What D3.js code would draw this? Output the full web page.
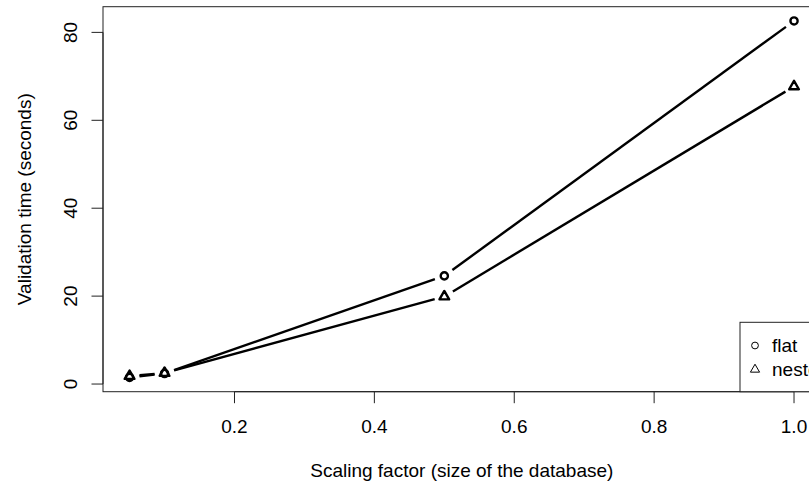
<!DOCTYPE html>
<html>
<head>
<meta charset="utf-8">
<script src="https://cdn.jsdelivr.net/npm/d3@7"></script>
<style>
  html, body { margin: 0; padding: 0; background: #fff; }
  svg { display: block; }
  text { font-family: "Liberation Sans", Arial, Helvetica, sans-serif; fill: #000; }
</style>
</head>
<body>
<svg id="chart" width="809" height="484"></svg>
<script>
// Scaling factors of the database and validation times (seconds)
const scaleFactors = [0.05, 0.1, 0.5, 1.0];
const flatTimes = [1.5, 2.4, 24.6, 82.6];
const nestedTimes = [1.8, 2.5, 19.9, 67.7];
const xTicks = [0.2, 0.4, 0.6, 0.8, 1.0];
const yTicks = [0, 20, 40, 60, 80];
const seriesNames = ["flat", "nested"];

const plot = { left: 103, top: 6.7, right: 820.6, bottom: 391.7 };
const fontSize = 19;

const svg = d3.select("#chart");

// R-style 4% axis expansion
function expand(lo, hi) {
  const d = (hi - lo) * 0.04;
  return [lo - d, hi + d];
}
const allY = flatTimes.concat(nestedTimes);
const x = d3.scaleLinear()
  .domain(expand(d3.min(scaleFactors), d3.max(scaleFactors)))
  .range([plot.left, plot.right]);
const y = d3.scaleLinear()
  .domain(expand(d3.min(allY), d3.max(allY)))
  .range([plot.bottom, plot.top]);

const tickLen = 11.5;
const axisColor = "#222";

// Plot box
svg.append("rect")
  .attr("x", plot.left).attr("y", plot.top)
  .attr("width", plot.right - plot.left).attr("height", plot.bottom - plot.top)
  .attr("fill", "none").attr("stroke", axisColor).attr("stroke-width", 1);

// X axis
const xAxis = svg.append("g").attr("class", "x-axis");
xAxis.append("line")
  .attr("x1", x(xTicks[0])).attr("x2", x(xTicks[xTicks.length - 1]))
  .attr("y1", plot.bottom).attr("y2", plot.bottom)
  .attr("stroke", axisColor);
xAxis.selectAll("line.tick").data(xTicks).enter().append("line")
  .attr("class", "tick")
  .attr("x1", d => x(d)).attr("x2", d => x(d))
  .attr("y1", plot.bottom).attr("y2", plot.bottom + tickLen)
  .attr("stroke", axisColor);
xAxis.selectAll("text").data(xTicks).enter().append("text")
  .attr("x", d => x(d)).attr("y", 433.3)
  .attr("text-anchor", "middle")
  .attr("font-size", fontSize)
  .text(d => d3.format(".1f")(d));

// Y axis
const yAxis = svg.append("g").attr("class", "y-axis");
yAxis.append("line")
  .attr("x1", plot.left).attr("x2", plot.left)
  .attr("y1", y(yTicks[0])).attr("y2", y(yTicks[yTicks.length - 1]))
  .attr("stroke", axisColor);
yAxis.selectAll("line.tick").data(yTicks).enter().append("line")
  .attr("class", "tick")
  .attr("x1", plot.left - tickLen).attr("x2", plot.left)
  .attr("y1", d => y(d)).attr("y2", d => y(d))
  .attr("stroke", axisColor);
yAxis.selectAll("text").data(yTicks).enter().append("text")
  .attr("transform", d => `translate(76.5,${y(d)}) rotate(-90)`)
  .attr("text-anchor", "middle")
  .attr("font-size", fontSize)
  .text(d => d);

// Axis titles
svg.append("text")
  .attr("x", (plot.left + plot.right) / 2).attr("y", 477)
  .attr("text-anchor", "middle")
  .attr("font-size", fontSize)
  .text("Scaling factor (size of the database)");
svg.append("text")
  .attr("transform", `translate(31,${(plot.top + plot.bottom) / 2}) rotate(-90)`)
  .attr("text-anchor", "middle")
  .attr("font-size", fontSize)
  .text("Validation time (seconds)");

// Point symbols: open circle and open triangle (centroid at the point)
const symR = 3.6;
function circlePath(cx, cy, r) {
  const p = d3.path();
  p.moveTo(cx + r, cy);
  p.arc(cx, cy, r, 0, 2 * Math.PI);
  return p.toString();
}
function trianglePath(cx, cy, r) {
  const t0 = Math.sqrt(4 * Math.PI / (3 * Math.sqrt(3)));
  const top = t0 * r, half = t0 * Math.sqrt(3) / 2 * r, bot = t0 / 2 * r;
  return `M${cx},${cy - top}L${cx + half},${cy + bot}L${cx - half},${cy + bot}Z`;
}

// Lines with gaps around the points (type "b")
const gap = 10;
function drawSeries(values, shape) {
  const pts = scaleFactors.map((v, i) => [x(v), y(values[i])]);
  const g = svg.append("g");
  for (let i = 0; i < pts.length - 1; i++) {
    const [x0, y0] = pts[i], [x1, y1] = pts[i + 1];
    const len = Math.hypot(x1 - x0, y1 - y0);
    if (len <= 2 * gap) continue;
    const ux = (x1 - x0) / len, uy = (y1 - y0) / len;
    g.append("line")
      .attr("x1", x0 + ux * gap).attr("y1", y0 + uy * gap)
      .attr("x2", x1 - ux * gap).attr("y2", y1 - uy * gap)
      .attr("stroke", "#000").attr("stroke-width", 2.4);
  }
  g.selectAll("path").data(pts).enter().append("path")
    .attr("d", d => shape(d[0], d[1], symR))
    .attr("fill", "none").attr("stroke", "#000").attr("stroke-width", 2.4)
    .attr("stroke-linejoin", "round");
}
drawSeries(flatTimes, circlePath);
drawSeries(nestedTimes, trianglePath);

// Legend (bottom right, inside the plot box)
const legend = svg.append("g");
legend.append("rect")
  .attr("x", 740).attr("y", 322.3)
  .attr("width", plot.right - 740).attr("height", plot.bottom - 322.3)
  .attr("fill", "#fff").attr("stroke", axisColor).attr("stroke-width", 1);
const legendShapes = [circlePath, trianglePath];
const legendY = [345.5, 369.5];
seriesNames.forEach((name, i) => {
  legend.append("path")
    .attr("d", legendShapes[i](755, legendY[i], 3.4))
    .attr("fill", "none").attr("stroke", "#000").attr("stroke-width", 1);
  legend.append("text")
    .attr("x", 772).attr("y", legendY[i] + 6.8)
    .attr("font-size", fontSize)
    .text(name);
});
</script>
</body>
</html>
